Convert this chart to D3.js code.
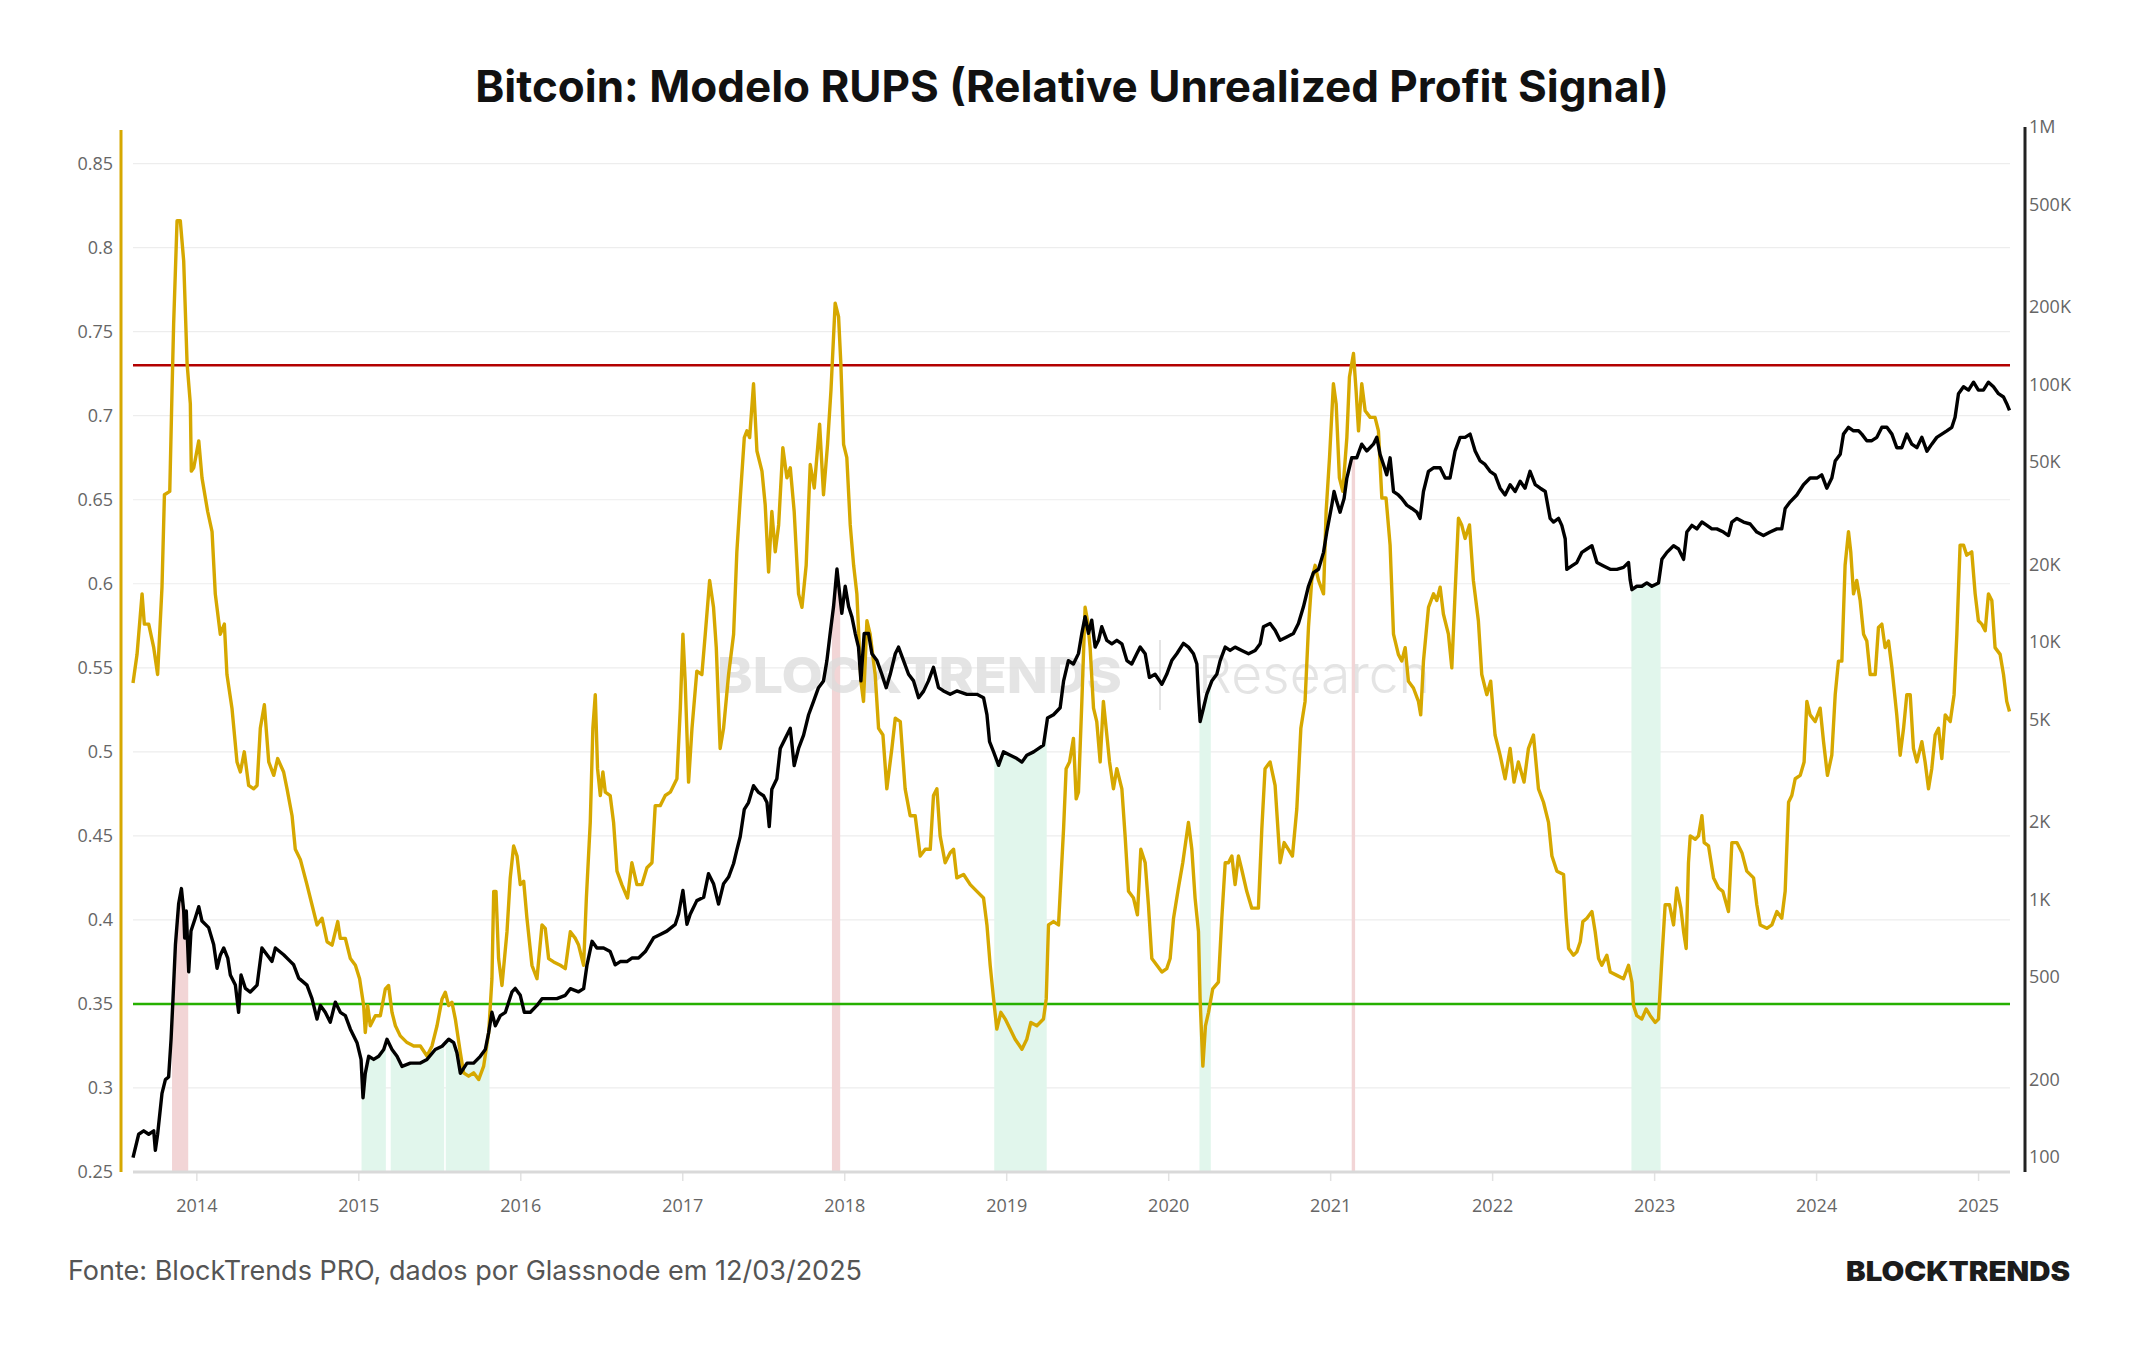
<!DOCTYPE html>
<html lang="pt">
<head>
<meta charset="UTF-8" />
<title>Bitcoin: Modelo RUPS</title>
<script src="https://d3js.org/d3.v7.min.js"></script>
<style>
  html, body { margin: 0; padding: 0; background: #ffffff; }
  #chart { width: 2144px; height: 1350px; }
  .tick-label { font-family: "Open Sans", sans-serif; font-size: 18px; fill: #666; }
</style>
</head>
<body>
<div id="chart"></div>
<script>
// RUPS (eixo esquerdo): [ano decimal, valor]
const rupsSeries = [
  [2013.609,0.541],[2013.634,0.558],[2013.665,0.594],[2013.679,0.576],[2013.706,0.576],[2013.737,0.562],[2013.761,0.546],[2013.788,0.598],[2013.803,0.653],[2013.836,0.655],[2013.850,0.715],[2013.860,0.755],[2013.881,0.816],[2013.901,0.816],[2013.922,0.792],[2013.943,0.731],[2013.963,0.707],[2013.969,0.667],[2013.984,0.669],
  [2014.015,0.685],[2014.035,0.663],[2014.070,0.643],[2014.097,0.631],[2014.117,0.594],[2014.148,0.570],[2014.173,0.576],[2014.189,0.546],[2014.220,0.526],[2014.251,0.494],[2014.272,0.488],[2014.296,0.500],[2014.323,0.480],[2014.354,0.478],[2014.375,0.480],[2014.395,0.514],[2014.420,0.528],[2014.447,0.494],[2014.478,0.486],[2014.502,0.496],[2014.539,0.488],[2014.560,0.478],[2014.591,0.462],[2014.611,0.442],[2014.642,0.436],[2014.683,0.421],[2014.714,0.409],[2014.745,0.397],[2014.776,0.401],[2014.807,0.387],[2014.838,0.385],[2014.873,0.399],[2014.889,0.389],[2014.920,0.389],[2014.951,0.377],[2014.982,0.373],
  [2015.008,0.365],[2015.033,0.349],[2015.043,0.333],[2015.058,0.349],[2015.074,0.337],[2015.105,0.343],[2015.136,0.343],[2015.167,0.359],[2015.187,0.361],[2015.208,0.345],[2015.229,0.337],[2015.259,0.331],[2015.301,0.327],[2015.342,0.325],[2015.383,0.325],[2015.424,0.319],[2015.455,0.325],[2015.486,0.337],[2015.517,0.353],[2015.537,0.357],[2015.558,0.349],[2015.578,0.351],[2015.599,0.341],[2015.630,0.321],[2015.650,0.309],[2015.681,0.307],[2015.712,0.309],[2015.743,0.305],[2015.774,0.313],[2015.805,0.333],[2015.825,0.365],[2015.836,0.417],[2015.850,0.417],[2015.866,0.377],[2015.887,0.361],[2015.918,0.393],[2015.938,0.425],[2015.959,0.444],[2015.980,0.438],
  [2016.000,0.421],[2016.021,0.423],[2016.041,0.401],[2016.072,0.373],[2016.103,0.365],[2016.134,0.397],[2016.154,0.395],[2016.175,0.377],[2016.206,0.375],[2016.247,0.373],[2016.278,0.371],[2016.309,0.393],[2016.340,0.389],[2016.360,0.385],[2016.391,0.373],[2016.408,0.413],[2016.432,0.458],[2016.448,0.514],[2016.463,0.534],[2016.477,0.490],[2016.494,0.474],[2016.510,0.488],[2016.525,0.476],[2016.555,0.474],[2016.576,0.458],[2016.597,0.429],[2016.627,0.421],[2016.662,0.413],[2016.689,0.434],[2016.720,0.421],[2016.751,0.421],[2016.782,0.431],[2016.813,0.434],[2016.833,0.468],[2016.864,0.468],[2016.895,0.474],[2016.926,0.476],[2016.967,0.484],[2016.988,0.526],
  [2017.004,0.570],[2017.018,0.542],[2017.039,0.482],[2017.060,0.514],[2017.090,0.548],[2017.121,0.546],[2017.142,0.570],[2017.169,0.602],[2017.193,0.586],[2017.210,0.562],[2017.234,0.502],[2017.255,0.514],[2017.286,0.546],[2017.317,0.570],[2017.337,0.619],[2017.358,0.651],[2017.383,0.687],[2017.399,0.691],[2017.416,0.687],[2017.440,0.719],[2017.461,0.679],[2017.492,0.667],[2017.512,0.647],[2017.533,0.607],[2017.553,0.643],[2017.574,0.619],[2017.595,0.635],[2017.621,0.681],[2017.646,0.663],[2017.667,0.669],[2017.691,0.643],[2017.718,0.594],[2017.739,0.586],[2017.765,0.611],[2017.790,0.671],[2017.815,0.657],[2017.848,0.695],[2017.872,0.653],[2017.897,0.683],[2017.918,0.715],[2017.944,0.767],[2017.965,0.759],[2017.979,0.731],[2017.996,0.683],
  [2018.016,0.675],[2018.037,0.635],[2018.058,0.611],[2018.078,0.594],[2018.103,0.542],[2018.119,0.530],[2018.140,0.578],[2018.160,0.570],[2018.191,0.546],[2018.212,0.514],[2018.239,0.510],[2018.263,0.478],[2018.294,0.502],[2018.315,0.520],[2018.346,0.518],[2018.376,0.478],[2018.407,0.462],[2018.438,0.462],[2018.469,0.438],[2018.500,0.442],[2018.531,0.442],[2018.551,0.474],[2018.572,0.478],[2018.592,0.450],[2018.623,0.434],[2018.654,0.440],[2018.675,0.442],[2018.695,0.425],[2018.737,0.427],[2018.778,0.421],[2018.819,0.417],[2018.860,0.413],[2018.881,0.397],[2018.901,0.373],[2018.922,0.353],[2018.942,0.335],[2018.967,0.345],[2018.994,0.341],
  [2019.025,0.335],[2019.055,0.329],[2019.097,0.323],[2019.127,0.329],[2019.152,0.339],[2019.189,0.337],[2019.230,0.341],[2019.247,0.353],[2019.261,0.397],[2019.292,0.399],[2019.323,0.397],[2019.354,0.454],[2019.370,0.490],[2019.391,0.494],[2019.415,0.508],[2019.432,0.472],[2019.446,0.476],[2019.467,0.530],[2019.487,0.586],[2019.502,0.578],[2019.518,0.562],[2019.539,0.526],[2019.559,0.518],[2019.580,0.494],[2019.600,0.530],[2019.617,0.514],[2019.638,0.494],[2019.662,0.478],[2019.683,0.490],[2019.714,0.478],[2019.734,0.450],[2019.755,0.417],[2019.786,0.413],[2019.810,0.403],[2019.831,0.442],[2019.858,0.434],[2019.878,0.409],[2019.899,0.377],[2019.930,0.373],[2019.961,0.369],[2019.991,0.371],
  [2020.012,0.377],[2020.033,0.401],[2020.063,0.419],[2020.090,0.434],[2020.125,0.458],[2020.146,0.442],[2020.166,0.413],[2020.187,0.393],[2020.197,0.353],[2020.214,0.313],[2020.230,0.337],[2020.249,0.345],[2020.275,0.359],[2020.310,0.363],[2020.331,0.401],[2020.352,0.434],[2020.372,0.434],[2020.393,0.438],[2020.413,0.421],[2020.434,0.438],[2020.454,0.430],[2020.485,0.417],[2020.516,0.407],[2020.557,0.407],[2020.578,0.454],[2020.598,0.490],[2020.629,0.494],[2020.660,0.480],[2020.691,0.434],[2020.716,0.446],[2020.742,0.442],[2020.767,0.438],[2020.794,0.466],[2020.819,0.514],[2020.845,0.530],[2020.866,0.574],[2020.886,0.602],[2020.907,0.611],[2020.928,0.602],[2020.959,0.594],[2020.975,0.643],[2020.996,0.675],
  [2021.020,0.719],[2021.037,0.707],[2021.057,0.663],[2021.078,0.655],[2021.103,0.687],[2021.119,0.723],[2021.144,0.737],[2021.160,0.715],[2021.175,0.691],[2021.195,0.719],[2021.216,0.703],[2021.247,0.699],[2021.277,0.699],[2021.298,0.691],[2021.319,0.651],[2021.345,0.651],[2021.370,0.623],[2021.391,0.570],[2021.421,0.558],[2021.442,0.554],[2021.463,0.562],[2021.483,0.542],[2021.514,0.538],[2021.545,0.530],[2021.559,0.522],[2021.576,0.554],[2021.607,0.586],[2021.638,0.594],[2021.658,0.590],[2021.679,0.598],[2021.699,0.582],[2021.730,0.570],[2021.751,0.550],[2021.771,0.594],[2021.792,0.639],[2021.812,0.635],[2021.833,0.627],[2021.860,0.635],[2021.884,0.602],[2021.915,0.578],[2021.936,0.546],[2021.967,0.534],[2021.991,0.542],
  [2022.018,0.510],[2022.049,0.498],[2022.080,0.484],[2022.111,0.502],[2022.135,0.482],[2022.162,0.494],[2022.197,0.482],[2022.224,0.502],[2022.255,0.510],[2022.286,0.478],[2022.317,0.470],[2022.348,0.458],[2022.369,0.438],[2022.400,0.429],[2022.441,0.427],[2022.457,0.401],[2022.472,0.383],[2022.502,0.379],[2022.523,0.381],[2022.544,0.387],[2022.560,0.399],[2022.585,0.401],[2022.616,0.405],[2022.636,0.393],[2022.657,0.377],[2022.677,0.373],[2022.708,0.379],[2022.729,0.369],[2022.770,0.367],[2022.811,0.365],[2022.842,0.373],[2022.863,0.363],[2022.873,0.349],[2022.893,0.343],[2022.924,0.341],[2022.951,0.347],[2022.976,0.343],
  [2023.007,0.339],[2023.027,0.341],[2023.048,0.377],[2023.068,0.409],[2023.095,0.409],[2023.120,0.397],[2023.140,0.419],[2023.165,0.407],[2023.182,0.393],[2023.198,0.383],[2023.212,0.434],[2023.223,0.450],[2023.254,0.448],[2023.274,0.450],[2023.295,0.462],[2023.309,0.446],[2023.336,0.444],[2023.367,0.425],[2023.398,0.419],[2023.424,0.417],[2023.459,0.405],[2023.480,0.446],[2023.511,0.446],[2023.542,0.440],[2023.572,0.429],[2023.614,0.425],[2023.634,0.409],[2023.655,0.397],[2023.696,0.395],[2023.727,0.397],[2023.758,0.405],[2023.788,0.401],[2023.809,0.417],[2023.830,0.470],[2023.850,0.474],[2023.871,0.484],[2023.902,0.486],[2023.926,0.494],[2023.943,0.530],[2023.963,0.522],[2023.994,0.518],
  [2024.025,0.526],[2024.046,0.506],[2024.070,0.486],[2024.097,0.498],[2024.118,0.534],[2024.138,0.554],[2024.159,0.554],[2024.179,0.611],[2024.200,0.631],[2024.214,0.619],[2024.231,0.594],[2024.251,0.602],[2024.272,0.590],[2024.293,0.570],[2024.313,0.566],[2024.334,0.546],[2024.365,0.546],[2024.385,0.574],[2024.406,0.576],[2024.426,0.562],[2024.447,0.566],[2024.468,0.550],[2024.498,0.522],[2024.519,0.498],[2024.540,0.514],[2024.560,0.534],[2024.581,0.534],[2024.601,0.502],[2024.622,0.494],[2024.653,0.506],[2024.673,0.494],[2024.694,0.478],[2024.714,0.490],[2024.735,0.510],[2024.756,0.514],[2024.776,0.496],[2024.797,0.522],[2024.828,0.518],[2024.852,0.534],[2024.869,0.570],[2024.889,0.623],[2024.910,0.623],[2024.930,0.617],[2024.961,0.619],[2024.982,0.594],
  [2025.002,0.578],[2025.023,0.576],[2025.044,0.572],[2025.064,0.594],[2025.085,0.590],[2025.105,0.562],[2025.136,0.558],[2025.157,0.546],[2025.177,0.530],[2025.194,0.524]
];

// Preço do BTC em USD (eixo direito, log): [ano decimal, preço]
const priceSeries = [
  [2013.609,103],[2013.644,127],[2013.675,131],[2013.706,127],[2013.737,131],[2013.747,110],[2013.761,127],[2013.788,183],[2013.809,207],[2013.829,212],[2013.844,297],[2013.856,427],[2013.871,693],[2013.891,1000],[2013.908,1143],[2013.922,935],[2013.928,735],[2013.938,935],[2013.953,543],[2013.967,782],[2013.994,881],
  [2014.015,972],[2014.035,855],[2014.076,806],[2014.107,693],[2014.128,560],[2014.148,630],[2014.169,672],[2014.194,614],[2014.210,528],[2014.241,482],[2014.261,378],[2014.276,528],[2014.303,468],[2014.333,453],[2014.375,482],[2014.405,672],[2014.436,632],[2014.467,596],[2014.488,672],[2014.539,632],[2014.580,596],[2014.601,578],[2014.632,513],[2014.683,482],[2014.714,427],[2014.745,356],[2014.766,402],[2014.796,378],[2014.827,346],[2014.858,414],[2014.889,378],[2014.920,367],[2014.951,325],[2014.992,288],
  [2015.017,248],[2015.029,176],[2015.043,219],[2015.064,255],[2015.095,248],[2015.126,255],[2015.157,271],[2015.177,297],[2015.208,271],[2015.239,255],[2015.270,233],[2015.321,240],[2015.383,240],[2015.424,248],[2015.475,271],[2015.517,279],[2015.558,297],[2015.589,288],[2015.609,263],[2015.630,219],[2015.671,240],[2015.712,240],[2015.753,255],[2015.784,271],[2015.805,316],[2015.825,378],[2015.846,335],[2015.877,367],[2015.908,378],[2015.949,454],[2015.969,468],
  [2016.000,440],[2016.025,378],[2016.062,378],[2016.103,402],[2016.134,427],[2016.185,427],[2016.226,427],[2016.278,440],[2016.309,467],[2016.360,454],[2016.391,467],[2016.412,578],[2016.443,713],[2016.473,672],[2016.514,672],[2016.555,651],[2016.586,578],[2016.617,595],[2016.658,595],[2016.689,614],[2016.730,614],[2016.772,651],[2016.823,736],[2016.864,758],[2016.905,781],[2016.957,830],[2016.977,908],
  [2017.004,1123],[2017.029,830],[2017.049,908],[2017.090,1026],[2017.132,1057],[2017.162,1306],[2017.193,1194],[2017.224,995],[2017.255,1194],[2017.286,1267],[2017.317,1430],[2017.337,1614],[2017.358,1820],[2017.383,2322],[2017.409,2466],[2017.440,2866],[2017.471,2700],[2017.502,2620],[2017.523,2466],[2017.537,1990],[2017.553,2780],[2017.584,3050],[2017.605,4000],[2017.636,4378],[2017.667,4790],[2017.691,3436],[2017.718,4000],[2017.749,4510],[2017.780,5408],[2017.811,6106],[2017.841,6890],[2017.872,7320],[2017.893,8775],[2017.913,11180],[2017.934,14230],[2017.955,19900],[2017.971,16060],[2017.985,13400],
  [2018.006,17060],[2018.027,14230],[2018.047,13000],[2018.068,11180],[2018.088,9900],[2018.103,7320],[2018.123,11180],[2018.150,11180],[2018.171,9330],[2018.202,8775],[2018.232,7765],[2018.259,6890],[2018.284,7765],[2018.315,9330],[2018.335,9900],[2018.366,8775],[2018.397,7765],[2018.428,7320],[2018.459,6300],[2018.490,6680],[2018.520,7320],[2018.551,8260],[2018.582,6890],[2018.613,6690],[2018.654,6490],[2018.695,6690],[2018.757,6490],[2018.819,6490],[2018.860,6300],[2018.881,5410],[2018.897,4250],[2018.922,3880],[2018.953,3440],[2018.983,3880],
  [2019.025,3766],[2019.066,3654],[2019.097,3540],[2019.127,3766],[2019.169,3880],[2019.230,4120],[2019.255,5250],[2019.292,5410],[2019.333,5755],[2019.354,7300],[2019.384,8775],[2019.415,8510],[2019.446,9340],[2019.467,11200],[2019.487,13000],[2019.508,11200],[2019.528,12600],[2019.549,9900],[2019.570,10520],[2019.590,11880],[2019.621,10520],[2019.652,10200],[2019.683,10520],[2019.714,10200],[2019.745,8775],[2019.775,8510],[2019.806,9330],[2019.827,9900],[2019.858,9330],[2019.884,7550],[2019.919,7765],[2019.961,7100],[2019.991,7765],
  [2020.022,8775],[2020.053,9330],[2020.094,10240],[2020.125,9900],[2020.156,9330],[2020.177,8510],[2020.187,6450],[2020.197,5090],[2020.218,5743],[2020.238,6490],[2020.269,7310],[2020.300,7765],[2020.321,8770],[2020.352,9900],[2020.382,9610],[2020.413,9900],[2020.454,9610],[2020.496,9330],[2020.537,9610],[2020.568,10200],[2020.588,11880],[2020.629,12240],[2020.660,11520],[2020.691,10520],[2020.732,10840],[2020.773,11180],[2020.804,12240],[2020.835,14200],[2020.866,17060],[2020.897,19270],[2020.928,19860],[2020.959,23100],[2020.979,27700],
  [2021.010,35200],[2021.024,39800],[2021.041,36300],[2021.061,33100],[2021.086,37400],[2021.103,44900],[2021.133,53800],[2021.164,53800],[2021.195,60800],[2021.226,57200],[2021.267,60800],[2021.288,64600],[2021.308,55500],[2021.329,50700],[2021.349,46200],[2021.370,53800],[2021.391,39800],[2021.421,38600],[2021.442,37400],[2021.473,35240],[2021.504,34200],[2021.535,33100],[2021.555,31300],[2021.576,39800],[2021.607,47700],[2021.638,49200],[2021.679,49200],[2021.710,44900],[2021.740,44900],[2021.771,57100],[2021.802,64600],[2021.833,64600],[2021.864,66500],[2021.895,57200],[2021.926,52300],[2021.956,50700],[2021.987,47700],
  [2022.018,46200],[2022.049,41000],[2022.080,38600],[2022.111,42300],[2022.142,39800],[2022.173,43600],[2022.203,41000],[2022.234,47700],[2022.266,42300],[2022.297,41000],[2022.328,39800],[2022.358,31300],[2022.379,30300],[2022.410,31300],[2022.430,29400],[2022.451,26100],[2022.461,19850],[2022.492,20460],[2022.523,21090],[2022.554,23100],[2022.585,23800],[2022.616,24500],[2022.647,21090],[2022.688,20460],[2022.729,19850],[2022.770,19850],[2022.811,20200],[2022.842,21090],[2022.852,18100],[2022.863,16550],[2022.893,17060],[2022.924,17060],[2022.955,17580],[2022.986,17060],
  [2023.027,17580],[2023.048,21700],[2023.079,23100],[2023.120,24500],[2023.151,23800],[2023.182,21700],[2023.202,27700],[2023.233,29400],[2023.264,28500],[2023.295,30300],[2023.326,29400],[2023.356,28500],[2023.387,28500],[2023.428,27700],[2023.459,26850],[2023.480,30300],[2023.511,31300],[2023.552,30300],[2023.593,29770],[2023.634,27700],[2023.675,26850],[2023.716,27700],[2023.758,28500],[2023.788,28500],[2023.809,34200],[2023.840,36300],[2023.881,38600],[2023.922,42300],[2023.963,44900],
  [2024.005,44900],[2024.035,46200],[2024.066,41000],[2024.097,44900],[2024.118,52300],[2024.149,55500],[2024.169,66500],[2024.200,70700],[2024.231,68500],[2024.262,68500],[2024.282,66500],[2024.313,62700],[2024.344,62700],[2024.375,64600],[2024.406,70700],[2024.437,70700],[2024.468,66500],[2024.498,58900],[2024.529,58900],[2024.560,66500],[2024.591,60800],[2024.622,58900],[2024.653,64600],[2024.684,57100],[2024.714,60800],[2024.745,64600],[2024.776,66500],[2024.807,68500],[2024.838,70700],[2024.858,77300],[2024.879,95500],[2024.910,101600],[2024.941,98600],[2024.972,105800],
  [2025.002,98600],[2025.033,98600],[2025.064,105800],[2025.095,101600],[2025.126,95500],[2025.157,92700],[2025.177,87300],[2025.194,82200]
];

// Períodos de sinal: RUPS acima de 0,73 (topo) e abaixo de 0,35 (fundo)
const topSignalPeriods = [[2013.850, 2013.950], [2017.924, 2017.975], [2021.133, 2021.154]];
const bottomSignalPeriods = [[2015.020, 2015.170], [2015.200, 2015.530], [2015.540, 2015.810], [2018.926, 2019.250], [2020.193, 2020.263], [2022.860, 2023.040]];

const topThreshold = 0.73;
const bottomThreshold = 0.35;

const yearTicks = [2014, 2015, 2016, 2017, 2018, 2019, 2020, 2021, 2022, 2023, 2024, 2025];
const rupsTicks = [0.25, 0.3, 0.35, 0.4, 0.45, 0.5, 0.55, 0.6, 0.65, 0.7, 0.75, 0.8, 0.85];
const priceTicks = [100, 200, 500, 1e3, 2e3, 5e3, 1e4, 2e4, 5e4, 1e5, 2e5, 5e5, 1e6];
const priceTickLabels = ["100", "200", "500", "1K", "2K", "5K", "10K", "20K", "50K", "100K", "200K", "500K", "1M"];

function renderChart(sel) {
  const W = 2144, H = 1350;
  const plot = { left: 133, right: 2010, top: 130, bottom: 1172 };

  const svg = d3.select(sel).append("svg")
    .attr("width", W).attr("height", H)
    .style("background", "#fff");

  const x = d3.scaleLinear().domain([2013.609, 2025.194]).range([plot.left, 2009.5]);
  const yRups = d3.scaleLinear().domain([0.25, 0.87]).range([plot.bottom, plot.top]);
  const yPrice = d3.scaleLog().domain([100, 1e6]).range([1161, 131]);

  // título
  svg.append("text")
    .attr("x", 1072).attr("y", 102)
    .attr("text-anchor", "middle")
    .style("font-family", "Inter, sans-serif")
    .style("font-weight", 700)
    .style("font-size", "44px")
    .style("fill", "#111")
    .text("Bitcoin: Modelo RUPS (Relative Unrealized Profit Signal)");

  // grade horizontal
  svg.append("g").selectAll("line")
    .data(rupsTicks.filter(d => d > 0.25))
    .join("line")
    .attr("x1", plot.left).attr("x2", plot.right)
    .attr("y1", d => yRups(d)).attr("y2", d => yRups(d))
    .attr("stroke", "#ededed").attr("stroke-width", 1.2);

  // áreas de sinal sob a curva de preço
  const defs = svg.append("defs");
  const makeClip = (id, periods) => {
    defs.append("clipPath").attr("id", id)
      .selectAll("rect").data(periods).join("rect")
      .attr("x", d => x(d[0])).attr("width", d => x(d[1]) - x(d[0]))
      .attr("y", plot.top).attr("height", plot.bottom - plot.top);
  };
  makeClip("clip-top", topSignalPeriods);
  makeClip("clip-bottom", bottomSignalPeriods);

  const priceArea = d3.area()
    .x(d => x(d[0]))
    .y0(plot.bottom)
    .y1(d => yPrice(d[1]));

  svg.append("path").datum(priceSeries)
    .attr("clip-path", "url(#clip-top)")
    .attr("d", priceArea).attr("fill", "#f2d5d6");
  svg.append("path").datum(priceSeries)
    .attr("clip-path", "url(#clip-bottom)")
    .attr("d", priceArea).attr("fill", "#e1f6ec");

  // marca d'água
  const wm = svg.append("g").attr("opacity", 0.75);
  wm.append("text")
    .attr("x", 717).attr("y", 693)
    .attr("textLength", 405).attr("lengthAdjust", "spacingAndGlyphs")
    .style("font-family", "Inter, sans-serif").style("font-weight", 800)
    .style("font-size", "50px").style("fill", "#dcdcdc")
    .text("BLOCKTRENDS");
  wm.append("line")
    .attr("x1", 1160).attr("x2", 1160).attr("y1", 640).attr("y2", 710)
    .attr("stroke", "#dcdcdc").attr("stroke-width", 2);
  wm.append("text")
    .attr("x", 1198).attr("y", 693)
    .attr("textLength", 232).attr("lengthAdjust", "spacingAndGlyphs")
    .style("font-family", "Inter, sans-serif").style("font-weight", 300)
    .style("font-size", "52px").style("fill", "#dcdcdc")
    .text("Research");

  // linhas de limiar
  svg.append("line")
    .attr("x1", plot.left).attr("x2", plot.right)
    .attr("y1", yRups(topThreshold)).attr("y2", yRups(topThreshold))
    .attr("stroke", "#b30000").attr("stroke-width", 2.6);
  svg.append("line")
    .attr("x1", plot.left).attr("x2", plot.right)
    .attr("y1", yRups(bottomThreshold)).attr("y2", yRups(bottomThreshold))
    .attr("stroke", "#26b000").attr("stroke-width", 2.6);

  // eixo X
  const xAxis = svg.append("g")
    .attr("transform", `translate(0,${plot.bottom})`)
    .call(d3.axisBottom(x).tickValues(yearTicks).tickFormat(d3.format("d")).tickSize(9).tickPadding(18));
  xAxis.select(".domain").remove();
  xAxis.selectAll(".tick line").attr("stroke", "#e2e2e2").attr("stroke-width", 1.5);
  xAxis.selectAll(".tick text").attr("class", "tick-label");
  svg.append("line")
    .attr("x1", plot.left).attr("x2", plot.right)
    .attr("y1", plot.bottom).attr("y2", plot.bottom)
    .attr("stroke", "#d9d9d9").attr("stroke-width", 3);

  // eixo esquerdo (RUPS)
  const leftAxis = svg.append("g")
    .attr("transform", "translate(121,0)")
    .call(d3.axisLeft(yRups).tickValues(rupsTicks).tickFormat(d3.format("~g")).tickSize(0).tickPadding(8));
  leftAxis.select(".domain").remove();
  leftAxis.selectAll(".tick text").attr("class", "tick-label");
  svg.append("line")
    .attr("x1", 121).attr("x2", 121).attr("y1", plot.top).attr("y2", plot.bottom)
    .attr("stroke", "#d6a800").attr("stroke-width", 3);

  // eixo direito (preço, log)
  const rightAxis = svg.append("g")
    .attr("transform", "translate(2025,0)")
    .call(d3.axisRight(yPrice).tickValues(priceTicks).tickFormat((d, i) => priceTickLabels[i]).tickSize(0).tickPadding(4));
  rightAxis.select(".domain").remove();
  rightAxis.selectAll(".tick text").attr("class", "tick-label").attr("dy", "0.1em");
  svg.append("line")
    .attr("x1", 2025).attr("x2", 2025).attr("y1", 127).attr("y2", plot.bottom)
    .attr("stroke", "#222").attr("stroke-width", 3);

  // séries
  svg.append("path").datum(rupsSeries)
    .attr("d", d3.line().x(d => x(d[0])).y(d => yRups(d[1])))
    .attr("fill", "none").attr("stroke", "#d6a800")
    .attr("stroke-width", 3.4).attr("stroke-linejoin", "round");

  svg.append("path").datum(priceSeries)
    .attr("d", d3.line().x(d => x(d[0])).y(d => yPrice(d[1])))
    .attr("fill", "none").attr("stroke", "#000")
    .attr("stroke-width", 3.4).attr("stroke-linejoin", "round");

  // rodapé
  svg.append("text")
    .attr("x", 68).attr("y", 1280)
    .style("font-family", "Inter, sans-serif")
    .style("font-size", "27px").style("fill", "#555")
    .text("Fonte: BlockTrends PRO, dados por Glassnode em 12/03/2025");
  svg.append("text")
    .attr("x", 1846).attr("y", 1281)
    .attr("textLength", 224).attr("lengthAdjust", "spacingAndGlyphs")
    .style("font-family", "Inter, sans-serif").style("font-weight", 900)
    .style("font-size", "27px").style("fill", "#1c1c1c")
    .text("BLOCKTRENDS");
}

renderChart("#chart");
</script>
</body>
</html>
